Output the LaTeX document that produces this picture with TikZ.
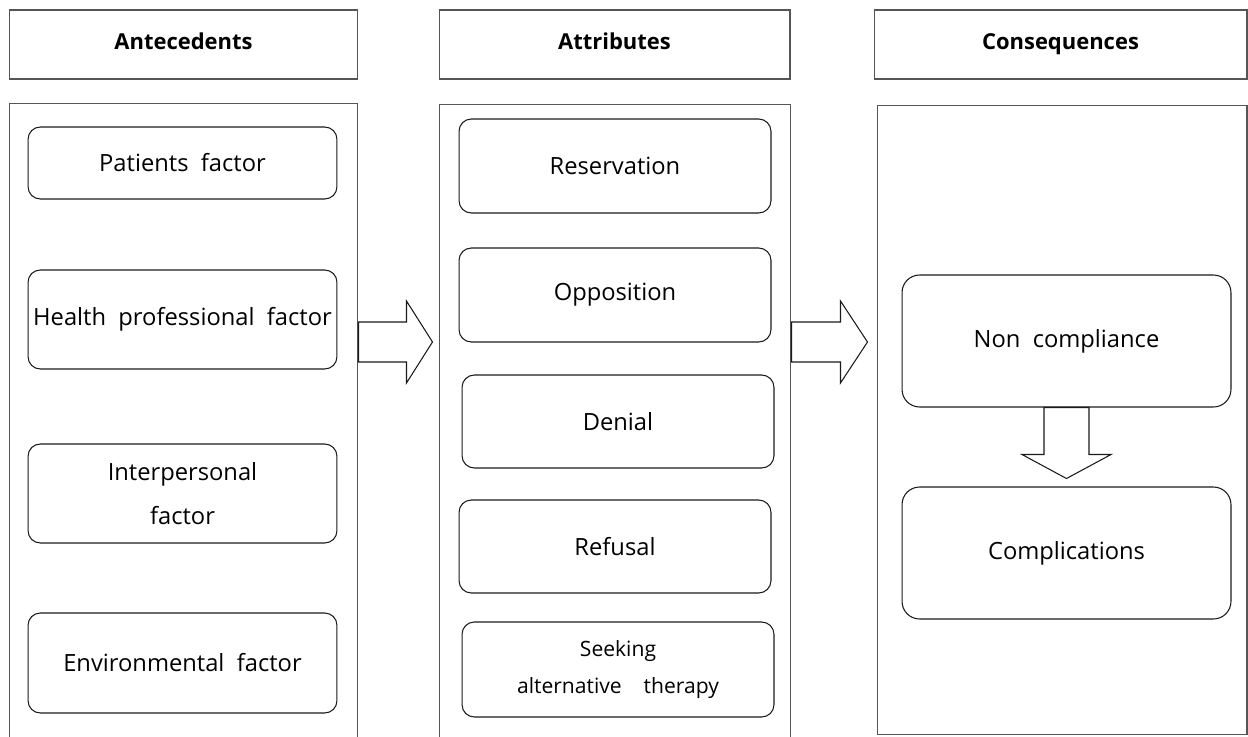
\documentclass[tikz,border=0pt]{standalone}
\usepackage{fontspec}
\setmainfont{Open Sans}
\usetikzlibrary{positioning}
\definecolor{ink}{HTML}{1A1A1A}
\definecolor{frame}{HTML}{555555}

\begin{document}
\begin{tikzpicture}[x=0.02cm,y=-0.02cm,font=\fontsize{13.5}{16}\selectfont,
  head/.style={draw=frame,line width=0.6pt,minimum height=1.38cm,inner sep=0pt,
               text height=9pt,text depth=3pt,font=\fontsize{12.5}{15}\selectfont\bfseries},
  panel/.style={draw=frame,line width=0.6pt,inner sep=0pt},
  item/.style={draw=ink,line width=0.6pt,rounded corners=7pt,align=center,inner sep=0pt},
  bigitem/.style={item,rounded corners=10pt,minimum width=6.58cm,minimum height=2.64cm},
  fatarrow/.style={draw=ink,line width=0.6pt,fill=white,line join=miter}]
\clip (0,0) rectangle (1248,737);
\node[head,minimum width=6.98cm] (hAnte) at (183.5,44.5) {Antecedents};
\node[head,minimum width=7.02cm] (hAttr) at (614.5,44.5) {Attributes};
\node[head,minimum width=7.46cm] (hCons) at (1060.5,44.5) {Consequences};
\node[panel,minimum width=6.98cm,minimum height=13.14cm] (pAnte) at (183.5,431.5) {};
\node[panel,minimum width=7.04cm,minimum height=13.12cm] (pAttr) at (615,432) {};
\node[panel,minimum width=7.4cm,minimum height=12.6cm] (pCons) at (1062,420) {};
\node[item,minimum width=6.18cm,minimum height=1.44cm] (pat) at (182.5,163) {Patients\ \ factor};
\node[item,minimum width=6.18cm,minimum height=1.98cm] (hpf) at (182.5,319.5) {Health\ \ professional\ \ factor};
\node[item,minimum width=6.18cm,minimum height=1.98cm] (ipf) at (182.5,493.5) {Interpersonal\\[9pt] factor};
\node[item,minimum width=6.18cm,minimum height=2cm] (env) at (182.5,663) {Environmental\ \ factor};
\node[item,minimum width=6.24cm,minimum height=1.88cm] (res) at (615,166) {Reservation};
\node[item,minimum width=6.24cm,minimum height=1.88cm] (opp) at (615,295) {Opposition};
\node[item,minimum width=6.24cm,minimum height=1.86cm] (den) at (618,421.5) {Denial};
\node[item,minimum width=6.24cm,minimum height=1.86cm] (ref) at (615,546.5) {Refusal};
\node[item,minimum width=6.24cm,minimum height=1.9cm,font=\fontsize{12}{14}\selectfont] (seek) at (618,669.5)
  {Seeking\\[7pt] alternative\ \ \ \ therapy};
\node[bigitem] (nonc) at (1066.5,341) {Non\ \ compliance};
\node[bigitem] (comp) at (1066.5,553) {Complications};
\coordinate (lvl) at (0,342);
\draw[fatarrow] (pAnte.east |- lvl) ++(0,-20) -- ++(48,0) -- ++(0,-21) -- ++(26,41)
  -- ++(-26,41) -- ++(0,-21) -- ++(-48,0) -- cycle;
\draw[fatarrow] (pAttr.east |- lvl) ++(0,-20) -- ++(49,0) -- ++(0,-21) -- ++(27,41)
  -- ++(-27,41) -- ++(0,-21) -- ++(-49,0) -- cycle;
\draw[fatarrow] (nonc.south) ++(-22.5,0) -- ++(0,47) -- ++(-22,0) -- ++(44.5,24)
  -- ++(44.5,-24) -- ++(-22,0) -- ++(0,-47) -- cycle;
\end{tikzpicture}
\end{document}
